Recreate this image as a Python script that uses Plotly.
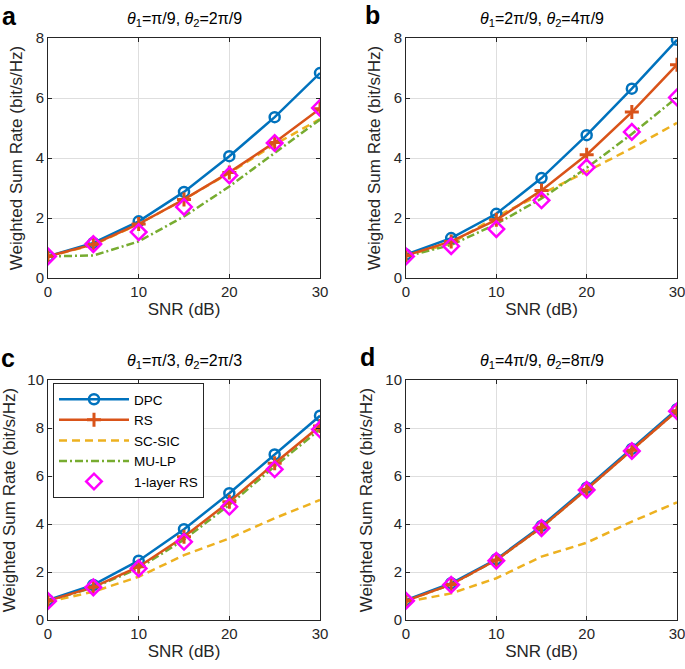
import plotly.graph_objects as go

snr = [0, 5, 10, 15, 20, 25, 30]

# Panel a
a_dpc = [0.72, 1.17, 1.89, 2.87, 4.06, 5.36, 6.83]
a_rs = [0.72, 1.12, 1.80, 2.62, 3.52, 4.52, 5.64]
a_scsic = [0.72, 1.10, 1.80, 2.62, 3.50, 4.45, 5.30]
a_mulp = [0.72, 0.75, 1.22, 2.05, 3.05, 4.17, 5.28]
a_1l = [0.72, 1.13, 1.53, 2.37, 3.42, 4.50, 5.67]

# Panel b
b_dpc = [0.78, 1.33, 2.14, 3.33, 4.76, 6.31, 7.94]
b_rs = [0.75, 1.22, 1.94, 2.92, 4.11, 5.53, 7.11]
b_scsic = [0.75, 1.15, 2.05, 2.80, 3.55, 4.33, 5.17]
b_mulp = [0.72, 1.10, 1.80, 2.65, 3.67, 4.80, 6.02]
b_1l = [0.72, 1.06, 1.63, 2.59, 3.69, 4.87, 6.02]

# Panel c
c_dpc = [0.83, 1.46, 2.47, 3.78, 5.28, 6.90, 8.51]
c_rs = [0.80, 1.37, 2.22, 3.47, 4.93, 6.53, 8.08]
c_scsic = [0.75, 1.18, 1.80, 2.70, 3.40, 4.24, 5.00]
c_mulp = [0.80, 1.35, 2.15, 3.35, 4.80, 6.40, 7.95]
c_1l = [0.79, 1.36, 2.15, 3.26, 4.72, 6.28, 7.94]

# Panel d
d_dpc = [0.83, 1.53, 2.53, 3.92, 5.51, 7.13, 8.78]
d_rs = [0.80, 1.48, 2.50, 3.86, 5.45, 7.07, 8.72]
d_scsic = [0.75, 1.11, 1.74, 2.64, 3.22, 4.10, 4.90]
d_mulp = [0.80, 1.48, 2.50, 3.86, 5.45, 7.07, 8.72]
d_1l = [0.80, 1.47, 2.47, 3.83, 5.42, 7.04, 8.70]

titles = ["<i>θ</i><sub>1</sub>=π/9, <i>θ</i><sub>2</sub>=2π/9",
          "<i>θ</i><sub>1</sub>=2π/9, <i>θ</i><sub>2</sub>=4π/9",
          "<i>θ</i><sub>1</sub>=π/3, <i>θ</i><sub>2</sub>=2π/3",
          "<i>θ</i><sub>1</sub>=4π/9, <i>θ</i><sub>2</sub>=8π/9"]
letters = ["a", "b", "c", "d"]
yranges = [[0, 8], [0, 8], [0, 10], [0, 10]]
panels = [
    [a_dpc, a_rs, a_scsic, a_mulp, a_1l],
    [b_dpc, b_rs, b_scsic, b_mulp, b_1l],
    [c_dpc, c_rs, c_scsic, c_mulp, c_1l],
    [d_dpc, d_rs, d_scsic, d_mulp, d_1l],
]

W, H = 685, 669


def px(xp):
    return xp / W


def py(yp):
    return (H - yp) / H


# plot area boxes in window pixels (x0, x1, ytop, ybottom)
boxes = [(48, 320, 38, 278), (406, 677, 38, 278), (48, 320, 380, 620), (406, 677, 380, 620)]
letter_pos = [(9, 16), (372, 15), (8, 358), (367, 357)]

BLUE = "#0072BD"
ORANGE = "#D95319"
YELLOW = "#EDB120"
GREEN = "#77AC30"
MAGENTA = "#FF00FF"
FONT = "Liberation Sans, Arial, sans-serif"
DASH_SC = "8px,5px"
DASH_MU = "8px,3px,2px,3px"

fig = go.Figure()
layout = dict(width=W, height=H, margin=dict(l=0, r=0, t=0, b=0),
              plot_bgcolor="white", paper_bgcolor="white",
              font=dict(family=FONT, color="#262626", size=12),
              annotations=[])

for i, (data, box) in enumerate(zip(panels, boxes)):
    xa = "x" if i == 0 else f"x{i+1}"
    ya = "y" if i == 0 else f"y{i+1}"
    show = (i == 2)
    dpc, rs, sc, mu, one = data
    fig.add_trace(go.Scatter(x=snr, y=sc, name="SC-SIC", mode="lines", xaxis=xa, yaxis=ya,
                             line=dict(color=YELLOW, width=2.5, dash=DASH_SC), showlegend=show, legendrank=3))
    fig.add_trace(go.Scatter(x=snr, y=mu, name="MU-LP", mode="lines", xaxis=xa, yaxis=ya,
                             line=dict(color=GREEN, width=2.5, dash=DASH_MU), showlegend=show, legendrank=4))
    fig.add_trace(go.Scatter(x=snr, y=dpc, name="DPC", mode="lines+markers", xaxis=xa, yaxis=ya,
                             line=dict(color=BLUE, width=2.5),
                             marker=dict(symbol="circle-open", size=10, color=BLUE, line=dict(width=2.5, color=BLUE)),
                             showlegend=show, legendrank=1))
    fig.add_trace(go.Scatter(x=snr, y=rs, name="RS", mode="lines+markers", xaxis=xa, yaxis=ya,
                             line=dict(color=ORANGE, width=2.5),
                             marker=dict(symbol="cross-thin", size=10, color=ORANGE, line=dict(width=3, color=ORANGE)),
                             showlegend=show, legendrank=2))
    fig.add_trace(go.Scatter(x=snr, y=one, name="1-layer RS", mode="markers", xaxis=xa, yaxis=ya,
                             marker=dict(symbol="diamond-open", size=12, color=MAGENTA, line=dict(width=2.5, color=MAGENTA)),
                             showlegend=show, legendrank=5))

    x0, x1, yt, yb = box
    key = "" if i == 0 else str(i + 1)
    common = dict(ticks="inside", ticklen=4, tickcolor="#262626",
                  showline=True, linecolor="#262626", linewidth=1, mirror="ticks",
                  showgrid=True, gridcolor="#dedede", zeroline=False, automargin=False,
                  ticklabeloverflow="allow",
                  tickfont=dict(size=15, color="#262626"))
    layout["xaxis" + key] = dict(domain=[px(x0), px(x1)], anchor=ya, range=[0, 30],
                                 tickvals=[0, 10, 20, 30],
                                 title=dict(text="SNR (dB)", font=dict(size=17, color="#262626"), standoff=4),
                                 **common)
    layout["yaxis" + key] = dict(domain=[py(yb), py(yt)], anchor=xa, range=yranges[i],
                                 dtick=2,
                                 title=dict(text="Weighted Sum Rate (bit/s/Hz)", font=dict(size=17, color="#262626"), standoff=8),
                                 **common)
    layout["annotations"].append(dict(text=titles[i], x=px((x0 + x1) / 2), y=py(yt - 19),
                                      xref="paper", yref="paper", showarrow=False,
                                      font=dict(size=16, color="#000000"), xanchor="center", yanchor="middle"))
    lx, ly = letter_pos[i]
    layout["annotations"].append(dict(text="<b>" + letters[i] + "</b>", x=px(lx), y=py(ly),
                                      xref="paper", yref="paper", showarrow=False,
                                      font=dict(size=25, color="#000000"), xanchor="center", yanchor="middle"))

layout["legend"] = dict(x=px(53), y=py(383), xanchor="left", yanchor="top",
                        bgcolor="white", bordercolor="#262626", borderwidth=1,
                        font=dict(size=13.5, color="#000000"), tracegroupgap=0,
                        itemwidth=70)
fig.update_layout(**layout)
fig.write_html("out.html", config={"displayModeBar": False},
               post_script="document.body.style.margin='0';document.body.style.overflow='hidden';")
